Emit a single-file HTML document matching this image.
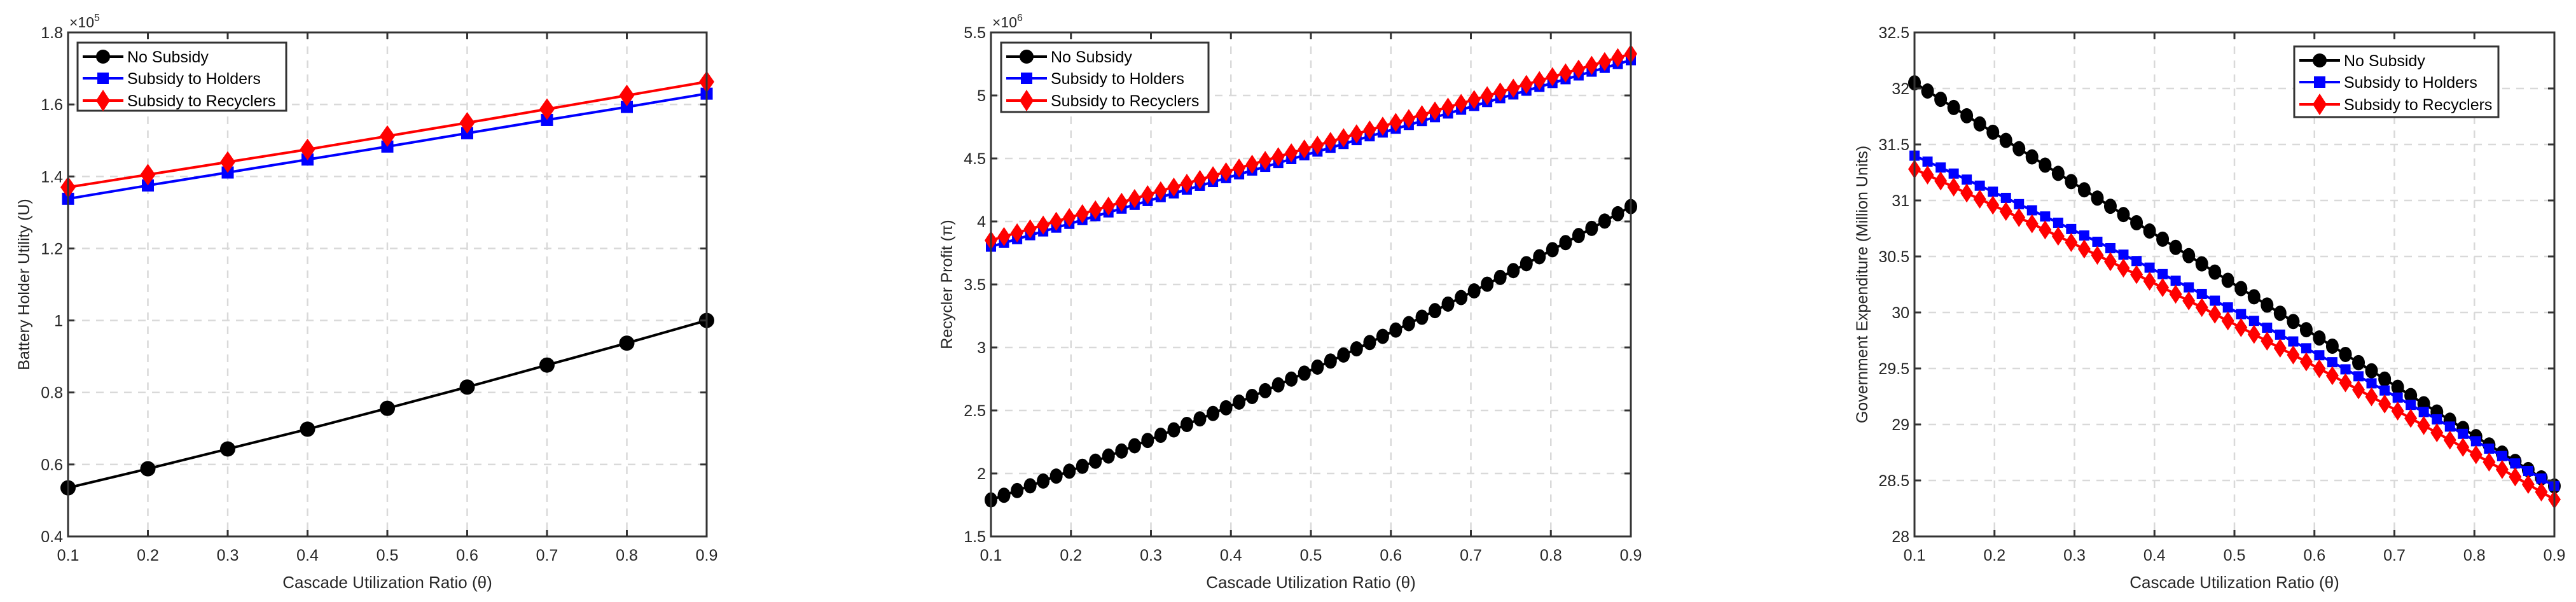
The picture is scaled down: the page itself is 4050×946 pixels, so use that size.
<!DOCTYPE html>
<html><head><meta charset="utf-8"><style>
html,body{margin:0;padding:0;background:#fff;}
svg{display:block;font-family:"Liberation Sans",Arial,sans-serif;}
</style></head><body>
<svg id="fig" width="4050" height="946" viewBox="0 0 4050 946" xmlns="http://www.w3.org/2000/svg"></svg>
<script>
// ---------- data ----------
const xs1 = [0.1,0.2,0.3,0.4,0.5,0.6,0.7,0.8,0.9];
const util_none = [0.535,0.588,0.643,0.698,0.756,0.815,0.876,0.937,1.000];
const util_holders = [1.338,1.375,1.411,1.447,1.483,1.520,1.557,1.593,1.630];
const util_recyclers = [1.370,1.405,1.440,1.475,1.512,1.549,1.587,1.625,1.663];

const xs2 = [0.1000,0.1163,0.1327,0.1490,0.1653,0.1816,0.1980,0.2143,0.2306,0.2469,0.2633,0.2796,0.2959,0.3122,0.3286,0.3449,0.3612,0.3776,0.3939,0.4102,0.4265,0.4429,0.4592,0.4755,0.4918,0.5082,0.5245,0.5408,0.5571,0.5735,0.5898,0.6061,0.6224,0.6388,0.6551,0.6714,0.6878,0.7041,0.7204,0.7367,0.7531,0.7694,0.7857,0.8020,0.8184,0.8347,0.8510,0.8673,0.8837,0.9000];
const profit_none = [1.790,1.827,1.864,1.902,1.940,1.979,2.018,2.057,2.097,2.138,2.178,2.220,2.262,2.303,2.346,2.389,2.433,2.476,2.521,2.566,2.611,2.657,2.703,2.749,2.796,2.844,2.892,2.940,2.989,3.039,3.088,3.138,3.189,3.240,3.292,3.344,3.396,3.449,3.502,3.556,3.610,3.665,3.720,3.776,3.832,3.888,3.945,4.003,4.061,4.118];
const profit_holders = [3.800,3.830,3.860,3.891,3.921,3.951,3.981,4.011,4.042,4.072,4.102,4.132,4.162,4.193,4.223,4.253,4.283,4.313,4.344,4.374,4.404,4.434,4.464,4.495,4.525,4.555,4.585,4.615,4.646,4.676,4.706,4.736,4.766,4.797,4.827,4.857,4.887,4.917,4.948,4.978,5.008,5.038,5.068,5.099,5.129,5.159,5.189,5.219,5.250,5.280];
const profit_recyclers = [3.850,3.880,3.910,3.941,3.971,4.001,4.031,4.061,4.092,4.122,4.152,4.182,4.212,4.243,4.273,4.303,4.333,4.363,4.394,4.424,4.454,4.484,4.514,4.545,4.575,4.605,4.635,4.665,4.696,4.726,4.756,4.786,4.816,4.847,4.877,4.907,4.937,4.967,4.998,5.028,5.058,5.088,5.118,5.149,5.179,5.209,5.239,5.269,5.300,5.330];

const gov_none = [32.050,31.977,31.903,31.830,31.756,31.683,31.609,31.536,31.462,31.389,31.315,31.242,31.168,31.095,31.021,30.948,30.874,30.801,30.727,30.654,30.581,30.507,30.434,30.360,30.287,30.213,30.140,30.066,29.993,29.919,29.846,29.772,29.699,29.625,29.552,29.479,29.405,29.332,29.258,29.185,29.111,29.038,28.964,28.891,28.817,28.744,28.670,28.597,28.523,28.450];
const gov_holders = [31.400,31.347,31.294,31.240,31.186,31.132,31.078,31.023,30.967,30.912,30.857,30.801,30.745,30.687,30.631,30.574,30.516,30.459,30.400,30.342,30.283,30.224,30.165,30.105,30.045,29.985,29.925,29.864,29.802,29.741,29.680,29.618,29.556,29.492,29.430,29.367,29.303,29.240,29.175,29.111,29.046,28.981,28.916,28.850,28.784,28.718,28.652,28.585,28.517,28.450];
const gov_recyclers = [31.280,31.227,31.174,31.120,31.066,31.012,30.958,30.903,30.847,30.792,30.737,30.681,30.625,30.567,30.511,30.454,30.396,30.339,30.280,30.222,30.163,30.104,30.045,29.985,29.925,29.865,29.805,29.744,29.682,29.621,29.560,29.498,29.436,29.372,29.310,29.247,29.183,29.120,29.055,28.991,28.926,28.861,28.796,28.730,28.664,28.598,28.532,28.465,28.397,28.330];

const xTicks = [0.1,0.2,0.3,0.4,0.5,0.6,0.7,0.8,0.9];
const xTickLabels = ["0.1","0.2","0.3","0.4","0.5","0.6","0.7","0.8","0.9"];
const yTicks1 = [0.4,0.6,0.8,1.0,1.2,1.4,1.6,1.8];
const yTickLabels1 = ["0.4","0.6","0.8","1","1.2","1.4","1.6","1.8"];
const yTicks2 = [1.5,2,2.5,3,3.5,4,4.5,5,5.5];
const yTickLabels2 = ["1.5","2","2.5","3","3.5","4","4.5","5","5.5"];
const yTicks3 = [28,28.5,29,29.5,30,30.5,31,31.5,32,32.5];
const yTickLabels3 = ["28","28.5","29","29.5","30","30.5","31","31.5","32","32.5"];
const seriesNames = ["No Subsidy","Subsidy to Holders","Subsidy to Recyclers"];

// ---------- drawing ----------
const NS = "http://www.w3.org/2000/svg";
const svg = document.getElementById("fig");
function mk(tag, attrs, parent){
  const e = document.createElementNS(NS, tag);
  for (const k in attrs) e.setAttribute(k, attrs[k]);
  (parent||svg).appendChild(e);
  return e;
}
const colors = ["#000000","#0000ff","#ff0000"];
const kinds = ["circle","square","diamond"];

function marker(g, kind, x, y, color, s){
  let m;
  if (kind==="circle"){
    m = mk("ellipse",{cx:x,cy:y,rx:s.r,ry:s.ry,fill:color},g);
  } else if (kind==="square"){
    m = mk("rect",{x:x-s.sq/2,y:y-s.sq/2,width:s.sq,height:s.sq,fill:color},g);
  } else {
    m = mk("polygon",{points:`${x},${y-s.dh} ${x+s.dw},${y} ${x},${y+s.dh} ${x-s.dw},${y}`,fill:color},g);
  }
  return m;
}

function chart(cfg){
  const {L,R,T,B,ymin,ymax,yt,ytl,xsArr,series,ylabel,legend,exp,ylabelX,ms,id} = cfg;
  const sx = v => L + (v-0.1)/(0.8)*(R-L);
  const sy = v => B - (v-ymin)/(ymax-ymin)*(B-T);
  const g = mk("g",{});
  
  
  // grid
  xTicks.forEach((t,i)=>{
    if(i>0 && i<xTicks.length-1){
      const l = mk("line",{x1:sx(t),x2:sx(t),y1:T,y2:B,stroke:"#d9d9d9","stroke-width":2.5,"stroke-dasharray":"12 10"},g);
      
      
    }
  });
  yt.forEach((t,i)=>{
    if(i>0 && i<yt.length-1){
      const l = mk("line",{x1:L,x2:R,y1:sy(t),y2:sy(t),stroke:"#d9d9d9","stroke-width":2.5,"stroke-dasharray":"12 10"},g);
      
      
    }
  });
  // series
  series.forEach((vals,si)=>{
    const sg = mk("g",{},g);
    
    
    const pts = vals.map((v,i)=>sx(xsArr[i])+","+sy(v)).join(" ");
    mk("polyline",{points:pts,fill:"none",stroke:colors[si],"stroke-width":4},sg);
    vals.forEach((v,i)=>{
      const m = marker(sg,kinds[si],sx(xsArr[i]),sy(v),colors[si],ms);
      
      
    });
  });
  // frame + ticks
  const fr = mk("rect",{x:L,y:T,width:R-L,height:B-T,fill:"none",stroke:"#333","stroke-width":3},g);
  
  
  xTicks.forEach((t,i)=>{
    mk("line",{x1:sx(t),x2:sx(t),y1:B,y2:B-10,stroke:"#333","stroke-width":3},g);
    mk("line",{x1:sx(t),x2:sx(t),y1:T,y2:T+10,stroke:"#333","stroke-width":3},g);
    const tx = mk("text",{x:sx(t),y:B+38,"font-size":25,"text-anchor":"middle",fill:"#262626"},g);
    tx.textContent = xTickLabels[i];
    
    
  });
  yt.forEach((t,i)=>{
    mk("line",{x1:L,x2:L+10,y1:sy(t),y2:sy(t),stroke:"#333","stroke-width":3},g);
    mk("line",{x1:R,x2:R-10,y1:sy(t),y2:sy(t),stroke:"#333","stroke-width":3},g);
    const tx = mk("text",{x:L-8,y:sy(t)+9,"font-size":25,"text-anchor":"end",fill:"#262626"},g);
    tx.textContent = ytl[i];
    
    
  });
  // axis labels
  const xl = mk("text",{x:(L+R)/2,y:924,"font-size":26,"text-anchor":"middle",fill:"#262626"},g);
  xl.textContent = "Cascade Utilization Ratio (\u03b8)";
  
  
  const cy = (T+B)/2;
  const yl = mk("text",{x:ylabelX,y:cy,"font-size":25,"text-anchor":"middle",fill:"#262626",transform:`rotate(-90 ${ylabelX} ${cy})`,dy:9},g);
  yl.textContent = ylabel;
  
  
  if (exp){
    const et = mk("text",{x:L+2,y:T-8,"font-size":23,fill:"#262626"},g);
    et.textContent = "\u00d710";
    const sup = mk("tspan",{dy:-10,"font-size":16},et);
    sup.textContent = exp;
    
    
  }
  // legend
  const lg = mk("g",{},g);
  
  
  mk("rect",{x:legend.x,y:legend.y,width:legend.w,height:legend.h,fill:"#fff",stroke:"#333","stroke-width":3},lg);
  const rows=[22,56,91];
  seriesNames.forEach((n,si)=>{
    const ry = legend.y+rows[si];
    const e = mk("g",{},lg);
    
    
    mk("line",{x1:legend.x+8,x2:legend.x+72,y1:ry,y2:ry,stroke:colors[si],"stroke-width":4},e);
    marker(e,kinds[si],legend.x+40,ry,colors[si],{r:11,ry:11,sq:18,dw:11,dh:17});
    const t = mk("text",{x:legend.x+78,y:ry+9,"font-size":25,fill:"#000"},e);
    t.textContent = n;
  });
}

chart({id:"chart-battery-holder-utility",L:107,R:1111,T:51,B:843,ymin:0.4,ymax:1.8,yt:yTicks1,ytl:yTickLabels1,
  xsArr:xs1,series:[util_none,util_holders,util_recyclers],ylabel:"Battery Holder Utility (U)",ylabelX:37,exp:"5",
  legend:{x:122,y:67,w:328,h:107},ms:{r:12,ry:12,sq:19,dw:12,dh:17}});
chart({id:"chart-recycler-profit",L:1558,R:2564,T:51,B:843,ymin:1.5,ymax:5.5,yt:yTicks2,ytl:yTickLabels2,
  xsArr:xs2,series:[profit_none,profit_holders,profit_recyclers],ylabel:"Recycler Profit (\u03c0)",ylabelX:1488,exp:"6",
  legend:{x:1574,y:67,w:326,h:109},ms:{r:10,ry:12,sq:16,dw:10,dh:15}});
chart({id:"chart-government-expenditure",L:3010,R:4016,T:51,B:843,ymin:28,ymax:32.5,yt:yTicks3,ytl:yTickLabels3,
  xsArr:xs2,series:[gov_none,gov_holders,gov_recyclers],ylabel:"Government Expenditure (Million Units)",ylabelX:2927,exp:null,
  legend:{x:3607,y:73,w:321,h:111},ms:{r:10,ry:12,sq:16,dw:10,dh:15}});
</script>
</body></html>
